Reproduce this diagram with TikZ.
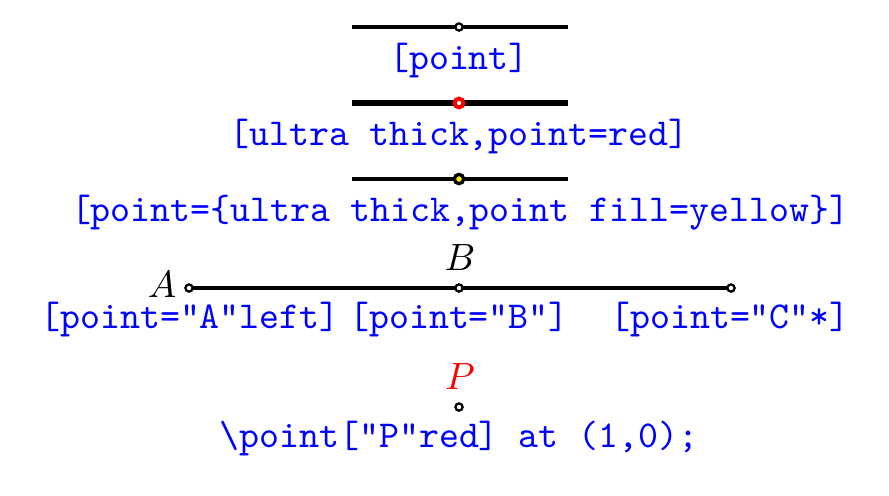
\documentclass[tikz,border=0pt]{standalone}
\begin{document}
\begin{tikzpicture}[x=0.2632pt,y=-0.2632pt,
  seg/.style={line width=0.8pt},
  code/.style={text=blue,font=\ttfamily,anchor=base,inner sep=0pt},
  lab/.style={anchor=base,inner sep=0pt},
  pt/.style={circle,draw=black,fill=white,line width=0.6pt,minimum size=1.9pt,inner sep=0pt}]
\useasboundingbox (0,0) rectangle (889,495);
% row 1
\coordinate (l1a) at (352,27); \coordinate (l1b) at (568,27);
\draw[seg] (l1a) -- (l1b);
\node[pt] (p1) at (459,27) {};
\node[code] (t1) at (459,69) {[point]};
% row 2
\coordinate (l2a) at (352,103); \coordinate (l2b) at (568,103);
\draw[line width=1.6pt] (l2a) -- (l2b);
\node[pt,draw=red,line width=1.05pt,minimum size=2.3pt] (p2) at (459,103) {};
\node[code] (t2) at (459,145) {[ultra thick,point=red]};
% row 3
\coordinate (l3a) at (352,179); \coordinate (l3b) at (568,179);
\draw[seg] (l3a) -- (l3b);
\node[pt,fill=yellow,line width=0.87pt,minimum size=2.45pt] (p3) at (459,179) {};
\node[code] (t3) at (460,221) {[point=\{ultra thick,point fill=yellow\}]};
% row 4
\coordinate (cA) at (189,288); \coordinate (cC) at (731,288);
\draw[seg] (cA) -- (cC);
\node[pt] (pA) at (cA) {};
\node[pt] (pB) at (459,288) {};
\node[pt] (pC) at (cC) {};
\node[lab] (lA) at (162,297) {$A$};
\node[lab] (lB) at (460,270) {$B$};
\node[code] (t4a) at (190,328) {[point="A"left]};
\node[code] (t4b) at (459,328) {[point="B"]};
\node[code] (t4c) at (730,328) {[point="C"*]};
% row 5
\node[pt] (pP) at (459,407) {};
\node[lab,text=red] (lP) at (460,389) {$P$};
\node[code] (t5) at (459,447) {\textbackslash point["P"red] at (1,0);};
\end{tikzpicture}
\end{document}
